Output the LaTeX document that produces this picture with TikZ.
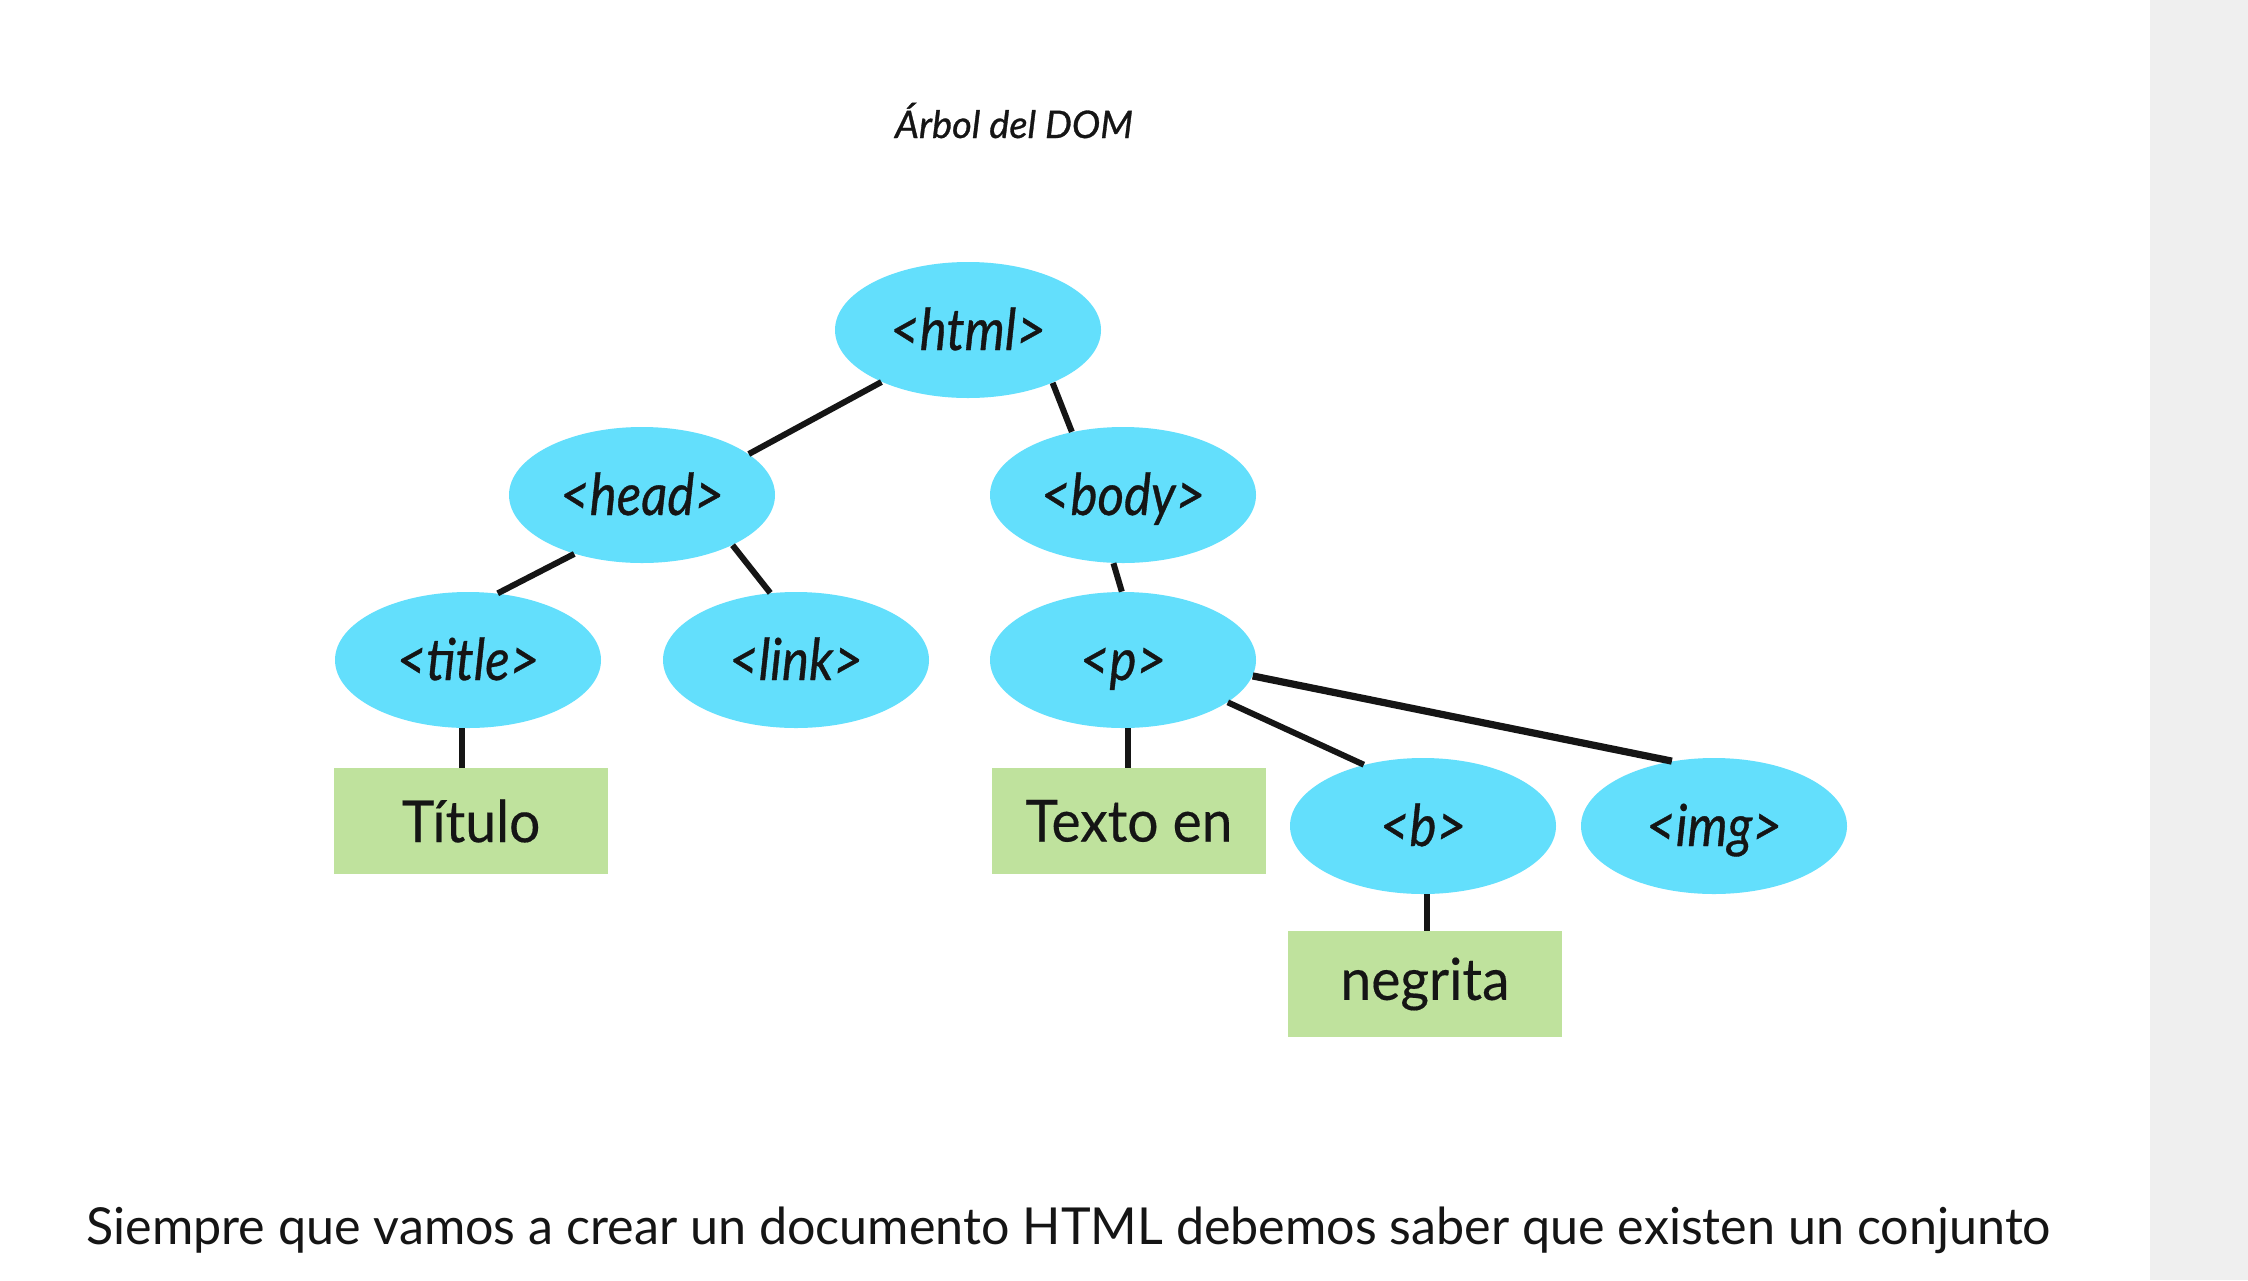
\documentclass[tikz,border=0pt]{standalone}
\usepackage{fontspec}
\setmainfont{Lato}
\newfontfamily\taglabelfont[FakeStretch=0.88,FakeBold=0.6]{Lato}
\newfontfamily\leaflabelfont[FakeStretch=0.95,FakeBold=0.3]{Lato}
\newfontfamily\captionfont[FakeBold=0.8]{Lato}
\usetikzlibrary{shapes.geometric}
\definecolor{nodecyan}{HTML}{63DFFC}
\definecolor{leafgreen}{HTML}{BFE29D}
\definecolor{stripgray}{HTML}{EFEFEF}
\definecolor{ink}{HTML}{151515}
\begin{document}
\begin{tikzpicture}[x=0.5pt,y=-0.5pt,
  tagnode/.style={ellipse, fill=nodecyan, minimum width=133pt, minimum height=68pt, inner sep=0pt, text height=20pt, text depth=0pt, font=\taglabelfont\fontsize{29}{31}\selectfont\itshape, text=ink},
  leafnode/.style={rectangle, fill=leafgreen, minimum width=137pt, minimum height=53pt, inner sep=0pt, font=\leaflabelfont\fontsize{29}{31}\selectfont, text=ink},
  treeline/.style={line width=3pt, draw=ink}]
\useasboundingbox (0,0) rectangle (2248,1280);
\fill[white] (0,0) rectangle (2150,1280);
\fill[stripgray] (2150,0) rectangle (2248,1280);

\node[anchor=base, font=\captionfont\fontsize{19}{21}\selectfont\itshape, text=ink] (cap) at (1014,138) {Árbol del DOM};

\node[tagnode] (html) at (968,330) {<html>};
\node[tagnode] (head) at (642,495) {<head>};
\node[tagnode] (body) at (1123,495) {<body>};
\node[tagnode] (title) at (468,660) {<title>};
\node[tagnode] (link) at (796,660) {<link>};
\node[tagnode] (p) at (1123,660) {<p>};
\node[tagnode] (b) at (1423,826) {<b>};
\node[tagnode] (img) at (1714,826) {<img>};

\node[leafnode] (tit) at (471,821) {Título};
\node[leafnode] (txt) at (1129,821) {Texto en};
\node[leafnode] (neg) at (1425,984) {negrita};

\draw[treeline] (html.211) -- (head.21);
\draw[treeline] (html.-32) -- (body.129);
\draw[treeline] (head.-139) -- (title.66);
\draw[treeline] (head.-29) -- (link.111);
\draw[treeline] (body.-98) -- (p.91);
\draw[treeline] (p.-86) -- (p.-86 |- txt.north);
\draw[treeline] (p.-22) -- (b.134);
\draw[treeline, line width=3.6pt] (p.-7) -- (img.123);
\draw[treeline] (title.-95) -- (title.-95 |- tit.north);
\draw[treeline] (b.-87) -- (b.-87 |- neg.north);

\node[anchor=base west, inner sep=0pt, font=\fontsize{25.5}{28}\selectfont, text=ink] (para) at (86,1244) {\scalebox{0.985}[1]{Siempre que vamos a crear un documento HTML debemos saber que existen un conjunto}};
\end{tikzpicture}
\end{document}
